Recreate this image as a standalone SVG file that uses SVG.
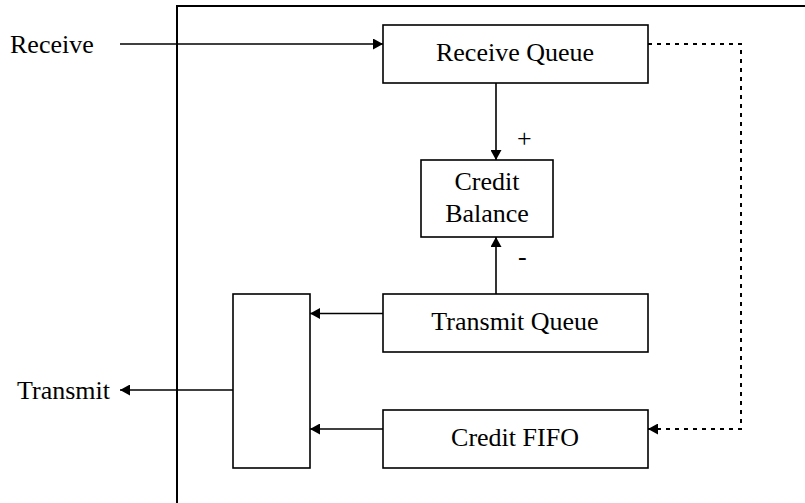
<svg xmlns="http://www.w3.org/2000/svg" width="805" height="503" viewBox="0 0 805 503">
<defs>
<style>
text{font-family:"Liberation Serif","Times New Roman",serif;font-size:26px;fill:#000}
.lbl{text-anchor:middle}
.box{fill:#fff;stroke:#000;stroke-width:1.6}
.ln{fill:none;stroke:#000;stroke-width:1.6}
.dot{fill:none;stroke:#000;stroke-width:2;stroke-dasharray:4,5}
.frame{fill:none;stroke:#000;stroke-width:2}
</style>
<marker id="ah" markerWidth="10" markerHeight="11" refX="10" refY="5.5" orient="auto" markerUnits="userSpaceOnUse" viewBox="0 0 10 11"><path d="M0,0 L10,5.5 L0,11 z" fill="#000"/></marker>
</defs>
<rect width="805" height="503" fill="#fff"/>
<g id="frame"><path class="frame" d="M177,503 V6 H805"/></g>
<g id="connectors">
<path class="ln" d="M120,44 H383" marker-end="url(#ah)"/>
<path class="ln" d="M496,83 V160" marker-end="url(#ah)"/>
<path class="ln" d="M496,294 V237" marker-end="url(#ah)"/>
<path class="ln" d="M383,313.5 H310" marker-end="url(#ah)"/>
<path class="ln" d="M383,429 H310" marker-end="url(#ah)"/>
<path class="ln" d="M233,390 H120" marker-end="url(#ah)"/>
<path class="dot" d="M648,44 H741 V429 H648" marker-end="url(#ah)"/>
</g>
<g id="receive-label"><text x="10" y="53">Receive</text></g>
<g id="transmit-label"><text x="17" y="399">Transmit</text></g>
<g id="receive-queue"><rect class="box" x="383" y="25" width="265" height="58"/><text class="lbl" x="515" y="61">Receive Queue</text></g>
<g id="credit-balance"><rect class="box" x="421" y="160" width="132" height="77"/><text class="lbl" x="487" y="190">Credit</text><text class="lbl" x="487" y="222">Balance</text></g>
<g id="transmit-queue"><rect class="box" x="383" y="294" width="265" height="58"/><text class="lbl" x="515" y="330">Transmit Queue</text></g>
<g id="credit-fifo"><rect class="box" x="383" y="410" width="265" height="58"/><text class="lbl" x="515" y="446">Credit FIFO</text></g>
<g id="mux"><rect class="box" x="233" y="294" width="77" height="174"/></g>
<g id="signs"><text x="517" y="147">+</text><text x="518" y="265">-</text></g>
</svg>
